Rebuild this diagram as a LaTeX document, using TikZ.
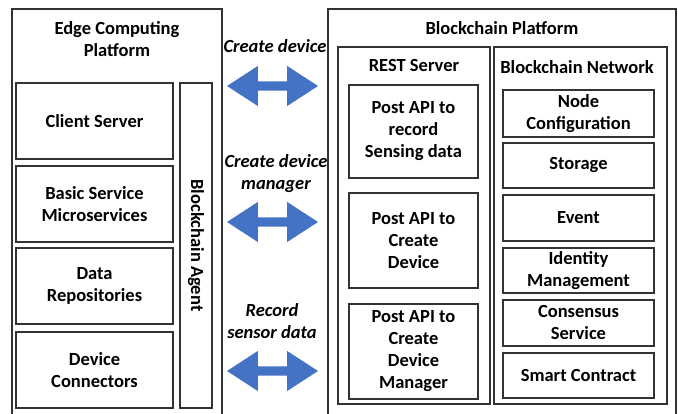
\documentclass[tikz,border=0pt]{standalone}
\usepackage{fontspec}
\setmainfont{Carlito}
\usetikzlibrary{positioning, shapes.arrows, calc}

\definecolor{arrowblue}{HTML}{4472C4}

\begin{document}
\begin{tikzpicture}[
  x=1pt, y=-1pt,
  every node/.style={font=\fontsize{18.5}{22}\selectfont\bfseries},
  frame/.style={draw=black!80, line width=1.1pt},
  block/.style={frame, align=center, inner sep=0pt},
  netblock/.style={block, minimum width=151pt},
  apiblock/.style={block, minimum width=129pt},
  edgeblock/.style={block, minimum width=157pt, minimum height=76pt},
  flow/.style={double arrow, fill=arrowblue, draw=none, minimum height=91pt,
    minimum width=40pt, double arrow head extend=12pt, double arrow tip angle=66},
  msg/.style={font=\fontsize{18.5}{22}\selectfont\bfseries\itshape, align=center}
]
\useasboundingbox (0,0) rectangle (678,414);

% Edge computing platform (left)
\draw[frame] (12,430) -- (12,9) -- (222,9) -- (222,430);
\node[align=center] (edgetitle) at (117,39) {Edge Computing\\Platform};
\node[edgeblock] (client) at (94.5,121) {Client Server};
\node[edgeblock] (basic) at (94.5,204) {Basic Service\\Microservices};
\node[edgeblock] (repo) at (94.5,286) {Data\\Repositories};
\node[edgeblock] (conn) at (94.5,370) {Device\\Connectors};
\node[block, minimum width=32pt, minimum height=325pt] (agentbox) at (196,245.5) {};
\node[rotate=-90] (agent) at (agentbox.center) {Blockchain Agent};

% Blockchain platform (right)
\draw[frame] (328,430) -- (328,9) -- (676,9) -- (676,430);
\node (bctitle) at (502,28) {Blockchain Platform};
\draw[frame] (338,47) rectangle (490,404);
\draw[frame] (494,47) rectangle (667,404);
\node (resttitle) at (414,66) {REST Server};
\node (nettitle) at (577,67) {Blockchain Network};

% REST server APIs
\node[apiblock, minimum height=93pt] (apisense) at (413.5,131.5) {Post API to\\record\\Sensing data};
\node[apiblock, minimum height=95pt] (apidev) at (413.5,240.5) {Post API to\\Create\\Device};
\node[apiblock, minimum height=95pt] (apimgr) at (413.5,351.5) {Post API to\\Create\\Device\\Manager};

% Blockchain network components
\node[netblock, minimum height=47pt] (nodecfg) at (578.5,113.5) {Node\\Configuration};
\node[netblock, minimum height=45pt] (storage) at (578.5,165.5) {Storage};
\node[netblock, minimum height=46pt] (event) at (578.5,218) {Event};
\node[netblock, minimum height=45pt] (ident) at (578.5,270.5) {Identity\\Management};
\node[netblock, minimum height=46pt] (consensus) at (578.5,323) {Consensus\\Service};
\node[netblock, minimum height=45pt] (contract) at (578.5,375.5) {Smart Contract};

% Transactions between the platforms
\node[flow] (flowdev) at (272.5,86) {};
\node[flow] (flowmgr) at (272.5,222) {};
\node[flow] (flowsense) at (272.5,371) {};
\node[msg] (msgdev) at (275,46) {Create device};
\node[msg] (msgmgr) at (276,174) {Create device\\manager};
\node[msg] (msgsense) at (272,321) {Record\\sensor data};

\end{tikzpicture}
\end{document}
